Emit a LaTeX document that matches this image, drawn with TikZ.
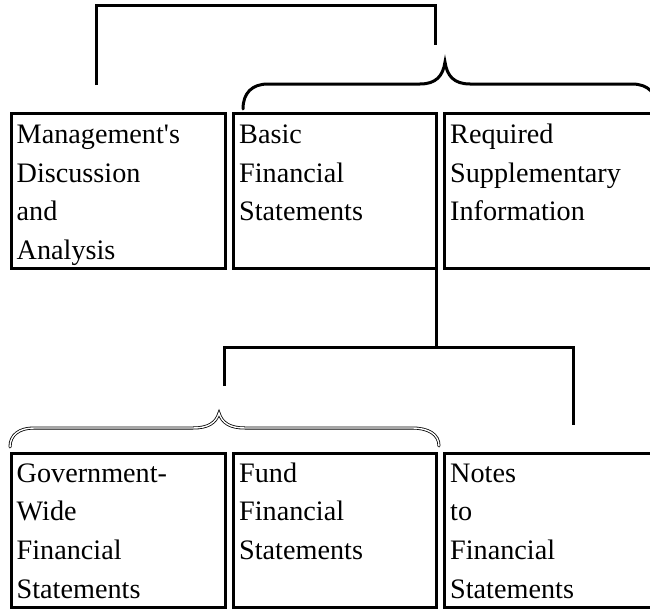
\documentclass[tikz,border=0pt]{standalone}
\usepackage{fontspec}
\setmainfont{Liberation Serif}[Ligatures=TeXOff]
\begin{document}
\begin{tikzpicture}[x=1pt,y=-1pt,
  box/.style={draw, line width=3pt, rectangle, inner sep=0pt, outer sep=0pt,
    anchor=north west, minimum height=155.5pt},
  txt/.style={anchor=base west, align=left, inner sep=0pt,
    font=\fontsize{28.2pt}{38.7pt}\selectfont},
  conn/.style={line width=3pt},
  brace/.style={line width=3pt, line cap=round},
  hbrace/.style={double, line width=0.8pt, double distance=1.4pt, line cap=round}]
\useasboundingbox (0,0) rectangle (650,610);
% top row boxes
\node[box, minimum width=213.5pt] (b1) at (11.5,113) {};
\node[box, minimum width=202.5pt] (b2) at (233.5,113) {};
\node[box, minimum width=240pt] (b3) at (444.5,113) {};
% bottom row boxes
\node[box, minimum width=213.5pt, minimum height=154.5pt] (c1) at (11.5,453) {};
\node[box, minimum width=202.5pt, minimum height=154.5pt] (c2) at (233.5,453) {};
\node[box, minimum width=240pt, minimum height=154.5pt] (c3) at (444.5,453) {};
% texts (anchor at the baseline of the last line)
\node[txt] (tb1) at (16.5,259.6) {Management's\\Discussion\\and\\Analysis};
\node[txt] (tb2) at (239,220.9) {Basic\\Financial\\Statements};
\node[txt] (tb3) at (450,220.9) {Required\\Supplementary\\Information};
\node[txt] (tc1) at (16.5,598.1) {Government-\\Wide\\Financial\\Statements};
\node[txt] (tc2) at (239,559.4) {Fund\\Financial\\Statements};
\node[txt] (tc3) at (450,598.1) {Notes\\to\\Financial\\Statements};
% coordinates
\coordinate (ta) at (96,85);
\coordinate (tb) at (435,45);
\coordinate (jt) at (96,6);
\coordinate (j) at (436,347);
\coordinate (la) at (224,386);
\coordinate (ra) at (573,425);
% top bracket
\draw[conn] (ta) -- (jt) -| (tb);
% connector from Basic Financial Statements down
\draw[conn] (b2.south east) -- (j);
\draw[conn] (la) |- (j) -| (ra);
% top brace
\draw[brace] (243,109) .. controls (243,93) and (252,84) .. (268,84) -- (420,84)
  .. controls (436,84) and (443,76) .. (445,62)
  .. controls (447,76) and (454,84) .. (470,84) -- (632,84)
  .. controls (648,84) and (657,93) .. (657,109);
% bottom brace
\draw[hbrace] (10,447) .. controls (10,435) and (19,428) .. (34,428) -- (193,428)
  .. controls (208,428) and (216,423) .. (219,413)
  .. controls (222,423) and (230,428) .. (245,428) -- (412,428)
  .. controls (428,428) and (439,434) .. (439,446);
\end{tikzpicture}
\end{document}
